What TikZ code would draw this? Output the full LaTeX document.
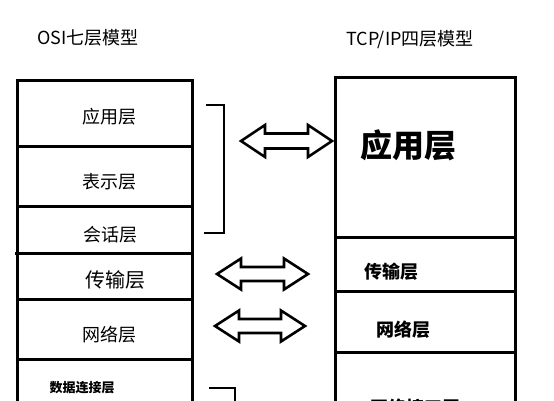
\documentclass[tikz,border=0pt]{standalone}
\usepackage{fontspec}
\newfontfamily\cjk{Noto Sans CJK SC}
\begin{document}
\begin{tikzpicture}[x=1pt,y=-1pt,
  boxline/.style={line width=3pt},
  brk/.style={line width=2.6pt},
  arr/.style={line width=2.6pt, line join=miter},
  ttl/.style={font=\cjk\fontsize{18}{20}\selectfont, inner sep=0pt},
  lbl/.style={font=\cjk\fontsize{18}{20}\selectfont, inner sep=0pt},
  blbl/.style={font=\cjk\bfseries\fontsize{18}{20}\selectfont, inner sep=0pt}]
\useasboundingbox (0,0) rectangle (554,400);
\clip (0,0) rectangle (554,400);
\fill[white] (0,0) rectangle (554,400);
% titles
\node[ttl] (t1) at (88,38) {OSI七层模型};
\node[ttl] (t2) at (410,40) {TCP/IP四层模型};
% left column
\draw[boxline] (17,430) -- (17,80) -- (192,80) -- (192,430);
\draw[boxline] (17,146) -- (192,146);
\draw[boxline] (17,206) -- (192,206);
\draw[boxline] (15,253) -- (194,253);
\draw[boxline] (17,299) -- (192,299);
\draw[boxline] (17,359) -- (192,359);
\node[lbl] (l1) at (109,117) {应用层};
\node[lbl] (l2) at (109,182) {表示层};
\node[lbl] (l3) at (110,235) {会话层};
\node[lbl, font=\cjk\fontsize{20}{22}\selectfont] (l4) at (115,280) {传输层};
\node[lbl] (l5) at (109,335) {网络层};
\node[blbl, font=\cjk\bfseries\fontsize{13}{15}\selectfont] (l6) at (82,388) {数据连接层};
% right column
\draw[boxline] (335,430) -- (335,77) -- (515,77) -- (515,430);
\draw[boxline] (335,237) -- (515,237);
\draw[boxline] (335,291) -- (515,291);
\draw[boxline] (335,352) -- (515,352);
\node[blbl, font=\cjk\bfseries\fontsize{32}{34}\selectfont] (r1) at (408,145) {应用层};
\node[blbl] (r2) at (391,272) {传输层};
\node[blbl] (r3) at (403,330) {网络层};
\node[blbl] (r4) at (415,408) {网络接口层};
% brackets
\draw[brk] (206,105) -- (224,105) -- (224,233) -- (204,233);
\draw[brk] (209,388) -- (235,388) -- (235,430);
% double arrows
\newcommand\dblarrow[5]{%
  \draw[arr] (#1,#3) -- (#1+24,#3-#4) -- (#1+24,#3-#5) -- (#2-24,#3-#5)
    -- (#2-24,#3-#4) -- (#2,#3) -- (#2-24,#3+#4) -- (#2-24,#3+#5)
    -- (#1+24,#3+#5) -- (#1+24,#3+#4) -- cycle;}
\dblarrow{241}{332}{141}{16}{7.5}
\dblarrow{217}{308}{274}{15.5}{7}
\dblarrow{215}{305}{326}{15.5}{7}
\end{tikzpicture}
\end{document}
